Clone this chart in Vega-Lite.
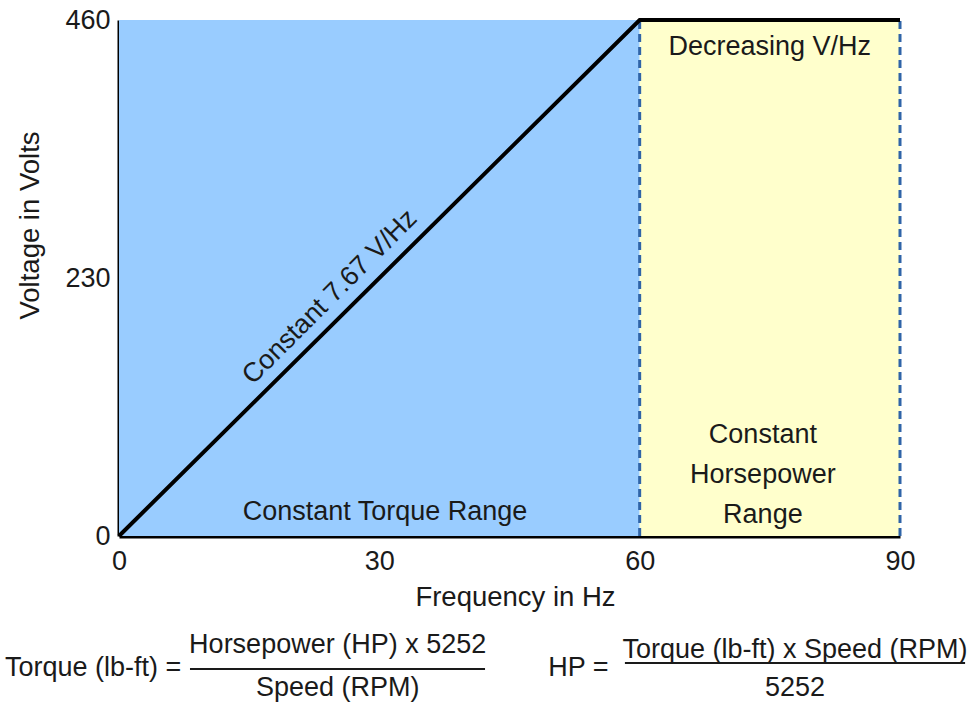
{
  "$schema": "https://vega.github.io/schema/vega-lite/v6.json",
  "width": 781,
  "height": 516,
  "autosize": {"type": "none"},
  "padding": {"left": 119, "top": 20, "right": 70, "bottom": 167},
  "background": "white",
  "config": {
    "view": {"stroke": null},
    "font": "Liberation Sans",
    "axis": {
      "grid": false,
      "ticks": false,
      "labelFlush": false,
      "domainColor": "black",
      "domainWidth": 4,
      "labelFont": "Liberation Sans",
      "labelFontSize": 27,
      "labelColor": "#1a1a1a",
      "titleFont": "Liberation Sans",
      "titleFontSize": 27.5,
      "titleFontWeight": "normal",
      "titleColor": "#1a1a1a"
    }
  },
  "layer": [
    {
      "data": {"values": [
        {"x0": 0, "x1": 60, "y0": 0, "y1": 460, "region": "Constant Torque", "fill": "#99CCFF"},
        {"x0": 60, "x1": 90, "y0": 0, "y1": 460, "region": "Constant Horsepower", "fill": "#FFFFCC"}
      ]},
      "mark": {"type": "rect"},
      "encoding": {
        "x": {"field": "x0", "type": "quantitative", "scale": {"domain": [0, 90], "nice": false},
              "axis": {"values": [0, 30, 60, 90], "title": "Frequency in Hz", "labelPadding": 12,
                       "titleX": 396, "titleY": 61, "titleBaseline": "middle", "titleAlign": "center"}},
        "x2": {"field": "x1"},
        "y": {"field": "y0", "type": "quantitative", "scale": {"domain": [0, 460], "nice": false},
              "axis": {"values": [0, 230, 460], "title": "Voltage in Volts", "labelPadding": 9,
                       "titleX": -89, "titleY": 205, "titleBaseline": "middle", "titleAlign": "center", "titleAngle": 270}},
        "y2": {"field": "y1"},
        "color": {"field": "fill", "type": "nominal", "scale": null}
      }
    },
    {
      "data": {"values": [{"x": 60, "y0": 0, "y1": 460}, {"x": 90, "y0": 0, "y1": 460}]},
      "mark": {"type": "rule", "color": "#2F64A8", "strokeWidth": 3, "strokeDash": [8, 5]},
      "encoding": {
        "x": {"field": "x", "type": "quantitative"},
        "y": {"field": "y0", "type": "quantitative"},
        "y2": {"field": "y1"}
      }
    },
    {
      "data": {"values": [{"f": 0, "v": 0}, {"f": 60, "v": 460}, {"f": 90, "v": 460}]},
      "mark": {"type": "line", "color": "black", "strokeWidth": 4},
      "encoding": {
        "x": {"field": "f", "type": "quantitative"},
        "y": {"field": "v", "type": "quantitative"}
      }
    },
    {
      "data": {"values": [
        {"x": 30.65, "y": 21.4, "label": "Constant Torque Range"},
        {"x": 75.0, "y": 436, "label": "Decreasing V/Hz"},
        {"x": 74.2, "y": 90, "label": "Constant"},
        {"x": 74.2, "y": 54.4, "label": "Horsepower"},
        {"x": 74.2, "y": 18.7, "label": "Range"}
      ]},
      "mark": {"type": "text", "fontSize": 27, "color": "#1a1a1a", "align": "center", "baseline": "middle"},
      "encoding": {
        "x": {"field": "x", "type": "quantitative"},
        "y": {"field": "y", "type": "quantitative"},
        "text": {"field": "label"}
      }
    },
    {
      "data": {"values": [{"x": 24.3, "y": 213, "label": "Constant 7.67 V/Hz"}]},
      "mark": {"type": "text", "fontSize": 27, "color": "#1a1a1a", "align": "center", "baseline": "middle", "angle": 315},
      "encoding": {
        "x": {"field": "x", "type": "quantitative"},
        "y": {"field": "y", "type": "quantitative"},
        "text": {"field": "label"}
      }
    },
    {
      "data": {"values": [
        {"x": -13.14, "y": -117.7, "label": "Torque (lb-ft) ="}
      ]},
      "mark": {"type": "text", "fontSize": 27, "color": "#1a1a1a", "align": "left", "baseline": "middle"},
      "encoding": {
        "x": {"field": "x", "type": "quantitative"},
        "y": {"field": "y", "type": "quantitative"},
        "text": {"field": "label"}
      }
    },
    {
      "data": {"values": [
        {"x": 25.2, "y": -97.2, "label": "Horsepower (HP) x 5252"},
        {"x": 25.2, "y": -135.5, "label": "Speed (RPM)"},
        {"x": 52.95, "y": -117.7, "label": "HP ="},
        {"x": 77.9, "y": -101.6, "label": "Torque (lb-ft) x Speed (RPM)"},
        {"x": 77.9, "y": -135.5, "label": "5252"}
      ]},
      "mark": {"type": "text", "fontSize": 27, "color": "#1a1a1a", "align": "center", "baseline": "middle"},
      "encoding": {
        "x": {"field": "x", "type": "quantitative"},
        "y": {"field": "y", "type": "quantitative"},
        "text": {"field": "label"}
      }
    },
    {
      "data": {"values": [
        {"x0": 8.18, "x1": 42.18, "y": -118.6},
        {"x0": 58.3, "x1": 97.5, "y": -113.2}
      ]},
      "mark": {"type": "rule", "color": "#1a1a1a", "strokeWidth": 2},
      "encoding": {
        "x": {"field": "x0", "type": "quantitative"},
        "x2": {"field": "x1"},
        "y": {"field": "y", "type": "quantitative"}
      }
    }
  ]
}
